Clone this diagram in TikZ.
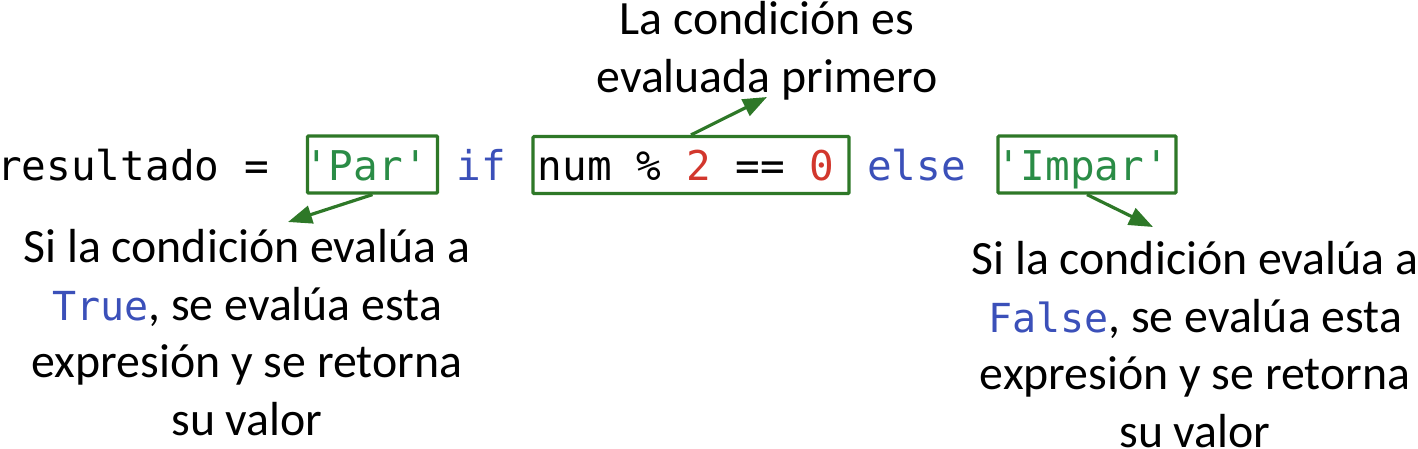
\documentclass[tikz,border=0pt]{standalone}
\usepackage{fontspec}
\setmainfont{Carlito}
\newfontfamily\codefont{DejaVu Sans Mono}
\usetikzlibrary{arrows.meta}
\definecolor{kwblue}{RGB}{59,80,185}
\definecolor{strgreen}{RGB}{42,140,70}
\definecolor{boxgreen}{RGB}{46,120,40}
\definecolor{numred}{RGB}{210,55,45}
\newcommand\monokw[1]{{\codefont\fontsize{40}{57.5}\selectfont\color{kwblue}#1}}
\begin{document}
\begin{tikzpicture}[x=1pt,y=-1pt,
  code/.style={anchor=base, inner sep=0pt, font=\codefont\fontsize{41}{49}\selectfont},
  box/.style={draw=boxgreen, line width=3.2pt, rounded corners=1pt, inner sep=0pt},
  note/.style={align=center, inner sep=0pt, anchor=base, font=\fontsize{47.8}{57.5}\selectfont},
  callout/.style={draw=boxgreen, line width=3.2pt, -{Triangle[length=24pt,width=18pt]}}]
\useasboundingbox (0,0) rectangle (1418,448);
% code line
\node[code] (lhs) at (133,180) {resultado =};
\node[code, text=strgreen] (par) at (366,180) {'Par'};
\node[code, text=kwblue] (if) at (481.5,180) {if};
\node[code] (cond) at (686,180) {num \% \textcolor{numred}{2} == \textcolor{numred}{0}};
\node[code, text=kwblue] (else) at (916.5,180) {else};
\node[code, text=strgreen] (impar) at (1082.5,180) {'Impar'};
% boxes
\node[box, minimum width=130, minimum height=57] (parbox) at (372.5,164.5) {};
\node[box, minimum width=316, minimum height=57] (condbox) at (691,165) {};
\node[box, minimum width=178, minimum height=57] (imparbox) at (1087,164.5) {};
% notes (base anchor = last line)
\node[note] (condnote) at (767,92) {La condición es\\evaluada primero};
\node[note] (truenote) at (247,435) {Si la condición evalúa a\\\monokw{True}, se evalúa esta\\expresión y se retorna\\su valor};
\node[note] (falsenote) at (1195,447) {Si la condición evalúa a\\\monokw{False}, se evalúa esta\\expresión y se retorna\\su valor};
% callouts
\coordinate (partip) at (288,222);
\coordinate (condtip) at (767,97);
\coordinate (impartip) at (1153,227);
\draw[callout] (parbox.south) -- (partip);
\draw[callout] (condbox.north) -- (condtip);
\draw[callout] (imparbox.south) -- (impartip);
\end{tikzpicture}
\end{document}
